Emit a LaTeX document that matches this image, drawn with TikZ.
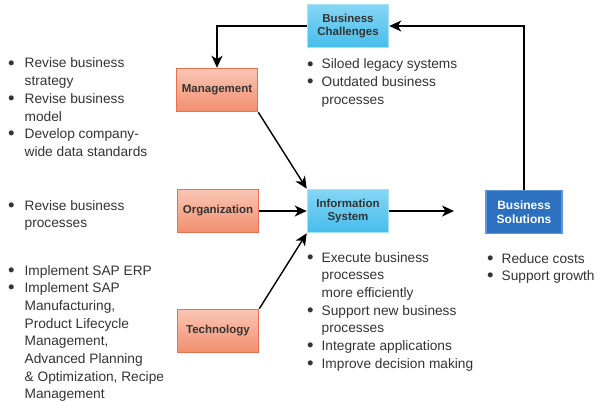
\documentclass[tikz,border=0pt]{standalone}
\usepackage{fontspec}
\setmainfont{Liberation Sans}
\usetikzlibrary{positioning,arrows.meta,calc}
\definecolor{salmonTop}{HTML}{FAC6B4}
\definecolor{salmonBot}{HTML}{F28E6E}
\definecolor{salmonEdge}{HTML}{E4714F}
\definecolor{cyanTop}{HTML}{86D6F4}
\definecolor{cyanBot}{HTML}{45BDEC}
\definecolor{cyanEdge}{HTML}{A6E1F8}
\definecolor{blueFill}{HTML}{2C70C0}
\definecolor{blueEdge}{HTML}{5E97DA}
\definecolor{txtGray}{HTML}{333333}
\newcommand{\blt}{\raisebox{-1.2pt}{\scalebox{1.35}{\textbullet}}}

\begin{document}
\begin{tikzpicture}[
      x=1pt,y=-1pt,
      box/.style={rectangle,minimum width=81pt,minimum height=43pt,align=center,
        inner sep=1pt,text=txtGray,font=\bfseries\fontsize{11.5}{13.8}\selectfont},
      salbox/.style={box,top color=salmonTop,bottom color=salmonBot,draw=salmonEdge,line width=1.6pt},
      cyanbox/.style={box,top color=cyanTop,bottom color=cyanBot,draw=cyanEdge,line width=1.6pt},
      bluebox/.style={box,fill=blueFill,draw=blueEdge,line width=1.6pt,text=white,minimum width=76pt,
        font=\bfseries\fontsize{12}{14.2}\selectfont},
      lst/.style={anchor=base west,inner sep=0pt,text=txtGray,font=\fontsize{13.7}{17.7}\selectfont},
      edge/.style={-{Stealth[length=12pt,width=11pt,inset=3.5pt]},line width=1.4pt,draw=black}
    ]
    \useasboundingbox (0,0) rectangle (601,401);
    % boxes
    \node[cyanbox] (bchal) at (348,26) {Business\\Challenges};
    \node[salbox] (mgmt) at (217,90) {Management};
    \node[salbox] (org) at (218,211) {Organization};
    \node[cyanbox] (infosys) at (348,211) {Information\\System};
    \node[salbox] (tech) at (218,331) {Technology};
    \node[bluebox] (bsol) at (524,212) {Business\\Solutions};
    \coordinate (isout) at (454,211);
    % connectors
    \draw[edge] (bsol.north) |- (bchal.east);
    \draw[edge] (bchal.west) -| (mgmt.north);
    \foreach \u/\v in {mgmt.south east/infosys.north west,org.east/infosys.west,
      tech.north east/infosys.south west,infosys.east/isout}{
      \draw[edge] (\u) -- (\v);
    }
    % bullet lists
    \node[lst] (mgmtlist) at (8,68) {\begin{tabular}[t]{@{}l@{\hspace{10pt}}l@{}}
      \blt & Revise business\\ & strategy\\
      \blt & Revise business\\ & model\\
      \blt & Develop company-\\ & wide data standards\end{tabular}};
    \node[lst] (orglist) at (8,210) {\begin{tabular}[t]{@{}l@{\hspace{10pt}}l@{}}
      \blt & Revise business\\ & processes\end{tabular}};
    \node[lst] (techlist) at (8,275) {\begin{tabular}[t]{@{}l@{\hspace{10pt}}l@{}}
      \blt & Implement SAP ERP\\
      \blt & Implement SAP\\ & Manufacturing,\\ & Product Lifecycle\\
        & Management,\\ & Advanced Planning\\ & \& Optimization, Recipe\\
        & Management\end{tabular}};
    \node[lst] (bchallist) at (307,69) {\begin{tabular}[t]{@{}l@{\hspace{8pt}}l@{}}
      \blt & Siloed legacy systems\\
      \blt & Outdated business\\ & processes\end{tabular}};
    \node[lst] (infolist) at (307,262) {\begin{tabular}[t]{@{}l@{\hspace{8pt}}l@{}}
      \blt & Execute business\\ & processes\\ & more efficiently\\
      \blt & Support new business\\ & processes\\
      \blt & Integrate applications\\
      \blt & Improve decision making\end{tabular}};
    \node[lst] (bsollist) at (487,263) {\begin{tabular}[t]{@{}l@{\hspace{8pt}}l@{}}
      \blt & Reduce costs\\
      \blt & Support growth\end{tabular}};
  \end{tikzpicture}
\end{document}
